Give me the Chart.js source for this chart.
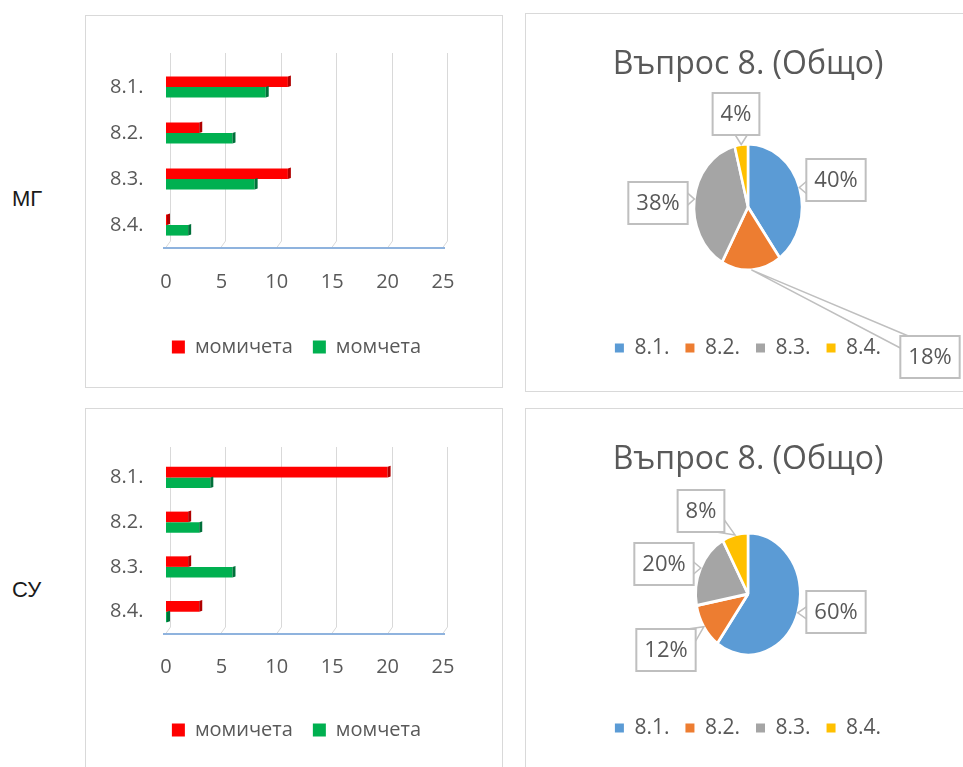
<!DOCTYPE html>
<html>
<head>
<meta charset="utf-8">
<script src="https://cdn.jsdelivr.net/npm/chart.js@4.4.0/dist/chart.umd.min.js"></script>
<style>
body { margin: 0; background: #fff; width: 963px; height: 767px; overflow: hidden; position: relative; }
.panel { position: absolute; border: 1px solid #D9D9D9; box-sizing: border-box; background: #fff; }
.panel canvas { display: block; }
.side { position: absolute; left: 12px; font-family: "Liberation Sans", Arial, sans-serif; font-size: 22px; line-height: 22px; color: #1a1a1a; }
</style>
</head>
<body>
<div class="side" style="top:188px">МГ</div>
<div class="side" style="top:579px">СУ</div>

<div class="panel" style="left:85px; top:15px; width:418px; height:373px"><canvas id="barMG" width="416" height="371"></canvas></div>
<div class="panel" style="left:85px; top:408px; width:418px; height:372px"><canvas id="barSU" width="416" height="370"></canvas></div>
<div class="panel" style="left:525px; top:13px; width:446px; height:379px"><canvas id="pieMG" width="444" height="377"></canvas></div>
<div class="panel" style="left:525px; top:408px; width:446px; height:370px"><canvas id="pieSU" width="444" height="368"></canvas></div>

<script>
// data
const categories = ['8.1.', '8.2.', '8.3.', '8.4.'];
const seriesNames = ['момичета', 'момчета'];
const xTicks = [0, 5, 10, 15, 20, 25];
const pieTitle = 'Въпрос 8. (Общо)';

// МГ
const mgGirls = [11, 3, 11, 0];
const mgBoys = [9, 6, 8, 2];
const mgPercent = [40, 18, 38, 4];

// СУ
const suGirls = [20, 2, 2, 3];
const suBoys = [4, 3, 6, 0];
const suPercent = [60, 12, 20, 8];

// where the callout boxes sit, relative to the pie centre
const mgCallouts = [[88, -27], [182, 150], [-90, -4], [-12, -93]];
const suCallouts = [[88, 18], [-82, 56], [-84, -30], [-47, -83]];

const pieColors = ['#5B9BD5', '#ED7D31', '#A5A5A5', '#FFC000'];
const textColor = '#595959';
const fontFamily = '"Open Sans", sans-serif';

Chart.defaults.font.family = fontFamily;
Chart.defaults.color = textColor;

// 3D-ish back wall gridlines and blue floor line
const backWall = {
    id: 'backWall',
    beforeDatasetsDraw(chart, args, opts) {
        const {ctx, chartArea: a, scales: {x}} = chart;
        ctx.save();
        ctx.strokeStyle = '#D9D9D9';
        ctx.lineWidth = 1;
        x.ticks.forEach((t, i) => {
            const px = Math.round(x.getPixelForTick(i)) + 0.5;
            ctx.beginPath();
            ctx.moveTo(px + 4, a.top - opts.rise);
            ctx.lineTo(px + 4, a.bottom - 7);
            ctx.lineTo(px - 1, a.bottom);
            ctx.stroke();
        });
        ctx.strokeStyle = '#8FB3DE';
        ctx.lineWidth = 2;
        ctx.beginPath();
        ctx.moveTo(a.left - 3, a.bottom);
        ctx.lineTo(a.right + 2, a.bottom);
        ctx.stroke();
        ctx.restore();
    }
};

// darker end face on every bar, for the 3D look
const barDepth = {
    id: 'barDepth',
    afterDatasetsDraw(chart) {
        const ctx = chart.ctx;
        ctx.save();
        chart.data.datasets.forEach((ds, di) => {
            ctx.fillStyle = ds.sideColor;
            chart.getDatasetMeta(di).data.forEach(bar => {
                const {x, y, height} = bar.getProps(['x', 'y', 'height'], true);
                const top = y - height / 2, bottom = y + height / 2;
                ctx.beginPath();
                ctx.moveTo(x, top);
                ctx.lineTo(x + 3, top - 1);
                ctx.lineTo(x + 3, bottom - 1);
                ctx.lineTo(x, bottom);
                ctx.closePath();
                ctx.fill();
            });
        });
        ctx.restore();
    }
};

// squeeze the pie into an ellipse like the picture
const ellipse = {
    id: 'ellipse',
    beforeDatasetsDraw(chart, args, opts) {
        const arc = chart.getDatasetMeta(0).data[0];
        const ctx = chart.ctx;
        ctx.save();
        ctx.translate(arc.x, arc.y);
        ctx.scale(opts.sx, 1);
        ctx.translate(-arc.x, -arc.y);
    },
    afterDatasetsDraw(chart) {
        chart.ctx.restore();
    }
};

// percentage labels in boxes with callout wedges
const callouts = {
    id: 'callouts',
    afterDraw(chart, args, opts) {
        const ctx = chart.ctx;
        const values = chart.data.datasets[0].data;
        const sx = chart.options.plugins.ellipse.sx;
        ctx.save();
        ctx.font = '22px ' + fontFamily;
        chart.getDatasetMeta(0).data.forEach((arc, i) => {
            const {x, y, startAngle, endAngle, outerRadius} = arc.getProps(['x', 'y', 'startAngle', 'endAngle', 'outerRadius'], true);
            const mid = (startAngle + endAngle) / 2;
            const ax = x + Math.cos(mid) * outerRadius * sx;
            const ay = y + Math.sin(mid) * outerRadius;
            const text = values[i] + '%';
            const w = ctx.measureText(text).width + 16;
            const h = 42;
            const left = x + opts.pos[i][0] - w / 2;
            const top = y + opts.pos[i][1] - h / 2;
            const right = left + w, bottom = top + h;
            const nx = Math.min(Math.max(ax, left), right);
            const ny = Math.min(Math.max(ay, top), bottom);

            if (Math.hypot(nx - ax, ny - ay) > 3) {
                let p1, p2;
                const outX = ax < left || ax > right;
                const outY = ay < top || ay > bottom;
                if (outX && outY) {
                    p1 = [nx, ny + (ny === top ? 12 : -12)];
                    p2 = [nx + (nx === left ? 8 : -8), ny];
                } else if (outX) {
                    p1 = [nx, Math.max(top + 2, ny - 6)];
                    p2 = [nx, Math.min(bottom - 2, ny + 6)];
                } else {
                    p1 = [Math.max(left + 2, nx - 6), ny];
                    p2 = [Math.min(right - 2, nx + 6), ny];
                }
                ctx.strokeStyle = '#BFBFBF';
                ctx.lineWidth = 1.5;
                ctx.beginPath();
                ctx.moveTo(p1[0], p1[1]);
                ctx.lineTo(ax, ay);
                ctx.lineTo(p2[0], p2[1]);
                ctx.stroke();
            }

            ctx.fillStyle = '#fff';
            ctx.fillRect(left, top, w, h);
            ctx.strokeStyle = '#BFBFBF';
            ctx.lineWidth = 2;
            ctx.strokeRect(left, top, w, h);
            ctx.fillStyle = textColor;
            ctx.textAlign = 'center';
            ctx.textBaseline = 'middle';
            ctx.fillText(text, left + w / 2, top + h / 2 + 1);
        });
        ctx.restore();
    }
};

function makeBarChart(id, girls, boys, lay) {
    return new Chart(document.getElementById(id), {
        type: 'bar',
        data: {
            labels: categories,
            datasets: [{
                label: seriesNames[0],
                data: girls,
                backgroundColor: '#FF0000',
                sideColor: '#B00000'
            }, {
                label: seriesNames[1],
                data: boys,
                backgroundColor: '#00B050',
                sideColor: '#00703A'
            }]
        },
        options: {
            indexAxis: 'y',
            responsive: false,
            animation: false,
            categoryPercentage: lay.catPct,
            barPercentage: 1,
            minBarLength: 1,
            layout: {padding: {left: 64, right: 59, top: lay.top, bottom: lay.bottom}},
            scales: {
                x: {
                    min: 0,
                    max: 25,
                    afterBuildTicks: s => { s.ticks = xTicks.map(v => ({value: v})); },
                    afterFit: s => { s.height = lay.xHeight; },
                    ticks: {padding: lay.tickPad, font: {size: 20}, color: textColor},
                    grid: {display: false, drawTicks: false},
                    border: {display: false}
                },
                y: {
                    afterFit: s => { s.width = 16; },
                    // mirrored so the labels are not clipped to the narrow axis box
                    ticks: {mirror: true, padding: -56, font: {size: 20}, color: textColor},
                    grid: {display: false, drawTicks: false},
                    border: {display: false}
                }
            },
            plugins: {
                legend: {
                    position: 'bottom',
                    labels: {boxWidth: 13, boxHeight: 13, padding: 20, font: {size: 20}, color: textColor}
                },
                tooltip: {enabled: false},
                backWall: {rise: lay.rise}
            }
        },
        plugins: [backWall, barDepth]
    });
}

function makePieChart(id, values, pos, lay) {
    return new Chart(document.getElementById(id), {
        type: 'pie',
        data: {
            labels: categories,
            datasets: [{
                data: values,
                backgroundColor: pieColors,
                borderColor: '#fff',
                borderWidth: 3
            }]
        },
        options: {
            responsive: false,
            animation: false,
            radius: lay.radius,
            layout: {padding: {top: 0, bottom: lay.bottom, left: 0, right: 0}},
            plugins: {
                title: {
                    display: true,
                    text: pieTitle,
                    color: textColor,
                    font: {size: 32, weight: 'normal'},
                    padding: {top: 31.8, bottom: lay.titleGap}
                },
                legend: {
                    position: 'bottom',
                    labels: {
                        boxWidth: 9,
                        boxHeight: 9,
                        padding: 16,
                        font: {size: 21},
                        color: textColor,
                        generateLabels: chart => Chart.overrides.pie.plugins.legend.labels.generateLabels(chart)
                            .map(l => Object.assign(l, {lineWidth: 0}))
                    }
                },
                tooltip: {enabled: false},
                ellipse: {sx: 0.857},
                callouts: {pos: pos}
            }
        },
        plugins: [ellipse, callouts]
    });
}

makeBarChart('barMG', mgGirls, mgBoys, {top: 48, bottom: 20, xHeight: 69, tickPad: 22, catPct: 0.46, rise: 11});
makeBarChart('barSU', suGirls, suBoys, {top: 46, bottom: 29, xHeight: 66, tickPad: 21, catPct: 0.47, rise: 8});
makePieChart('pieMG', mgPercent, mgCallouts, {radius: 63, bottom: 22.5, titleGap: 8.3});
makePieChart('pieSU', suPercent, suCallouts, {radius: 61, bottom: 28.5, titleGap: 7.3});
</script>
</body>
</html>
